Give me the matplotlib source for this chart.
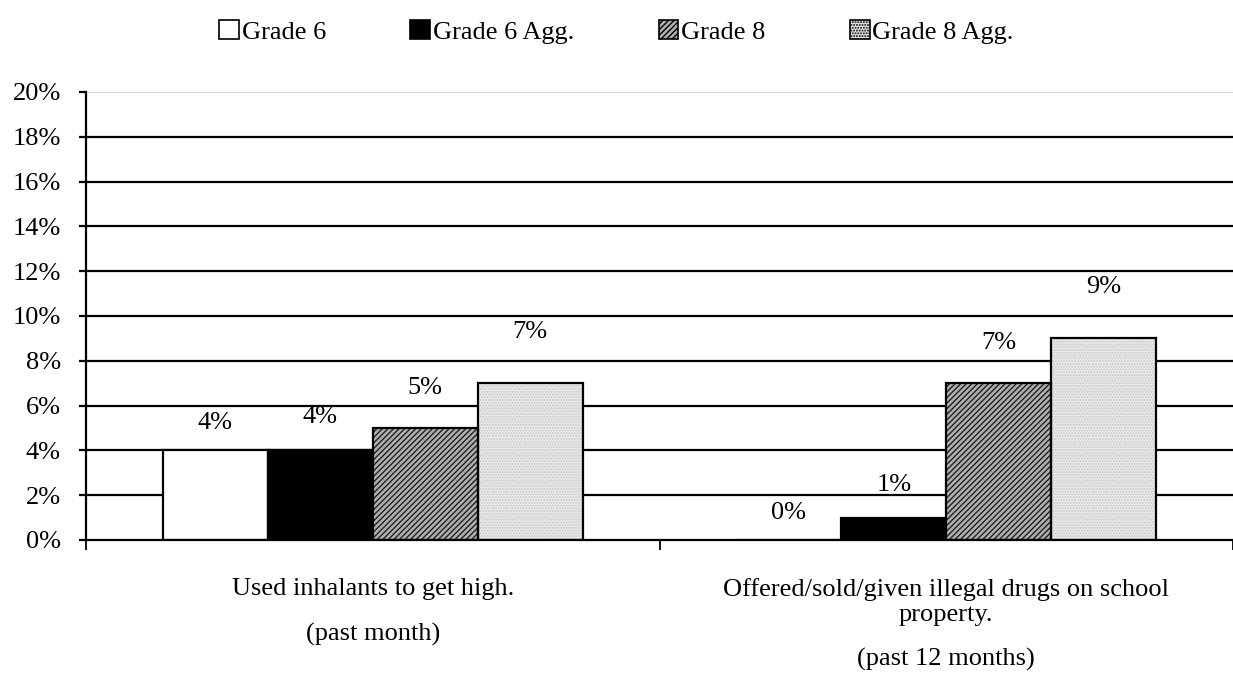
import matplotlib
matplotlib.use("Agg")
import matplotlib.pyplot as plt
from matplotlib.patches import Patch
import numpy as np

categories = ["Used inhalants to get high.", "Offered/sold/given illegal drugs on school\nproperty."]
periods = ["(past month)", "(past 12 months)"]
series = ["Grade 6", "Grade 6 Agg.", "Grade 8", "Grade 8 Agg."]
grade6 = [4, 0]
grade6_agg = [4, 1]
grade8 = [5, 7]
grade8_agg = [7, 9]
yticks = [0, 2, 4, 6, 8, 10, 12, 14, 16, 18, 20]

plt.rcParams['font.family'] = ['Liberation Serif', 'DejaVu Serif']
plt.rcParams['hatch.linewidth'] = 1.0
FS = 19

fig = plt.figure(figsize=(12.33, 6.87), dpi=100)
ax = fig.add_axes([86/1233, 1-540/687, 1-86/1233, (540-92)/687])

values = [grade6, grade6_agg, grade8, grade8_agg]
faces = ["white", "black", "#b0b0b0", "#ebebeb"]
hatches = [None, None, "//////", "......"]
hatch_cols = [None, None, "#202020", "#c8c8c8"]
label_off = [27, 33, 40, 51]  # px

x = np.arange(len(categories))
w = 0.183
for i, vals in enumerate(values):
    pos = x + (i - 1.5) * w
    if hatches[i]:
        ax.bar(pos, vals, w, color=faces[i], hatch=hatches[i], edgecolor=hatch_cols[i], linewidth=0, zorder=3)
        ax.bar(pos, vals, w, fill=False, edgecolor="black", linewidth=1.6, zorder=4)
    else:
        ax.bar(pos, vals, w, color=faces[i], edgecolor="black", linewidth=1.6, zorder=3)
    for p, v in zip(pos, vals):
        ax.annotate(f"{v}%", (p, v), xytext=(0, label_off[i]*0.72), textcoords="offset points",
                    ha="center", va="center", fontsize=FS, zorder=5)

ax.set_ylim(0, 20)
ax.set_xlim(-0.5, 1.5)
ax.set_yticks(yticks)
ax.set_yticklabels([f"{t}%" for t in yticks], fontsize=FS)
for t in yticks[1:]:
    ax.axhline(t, color="#d0d0d0" if t == 20 else "black", linewidth=1.6 if t < 20 else 1.2, zorder=1)

ax.set_xticks([-0.5, 0.5, 1.5])
ax.set_xticklabels([])
ax.tick_params(axis="x", direction="out", length=7, width=1.3)
ax.tick_params(axis="y", direction="out", length=5, width=1.6, pad=13)
for s in ["top", "right"]:
    ax.spines[s].set_visible(False)
ax.spines["left"].set_linewidth(1.6)
ax.spines["bottom"].set_linewidth(1.6)
ax.spines["bottom"].set_zorder(6)

trans = ax.get_xaxis_transform()
for xi, cat, per in zip(x, categories, periods):
    ax.text(xi, -38/448, cat, transform=trans, ha="center", va="top", fontsize=FS, linespacing=1.2)
    nlines = cat.count("\n") + 1
    ax.text(xi, -(38 + 25 * (nlines - 1) + 45) / 448, per, transform=trans, ha="center", va="top", fontsize=FS)

handles = []
for i in range(4):
    handles.append(Patch(facecolor=faces[i], edgecolor="black", hatch=hatches[i], linewidth=1.2))
leg = fig.legend(handles, series, loc="center", bbox_to_anchor=(0.5, 1-32/687), ncol=4, frameon=False,
                 fontsize=FS, handlelength=0.75, handleheight=0.75, handletextpad=0.1, columnspacing=3.2)

fig.savefig("out.png", dpi=100)
